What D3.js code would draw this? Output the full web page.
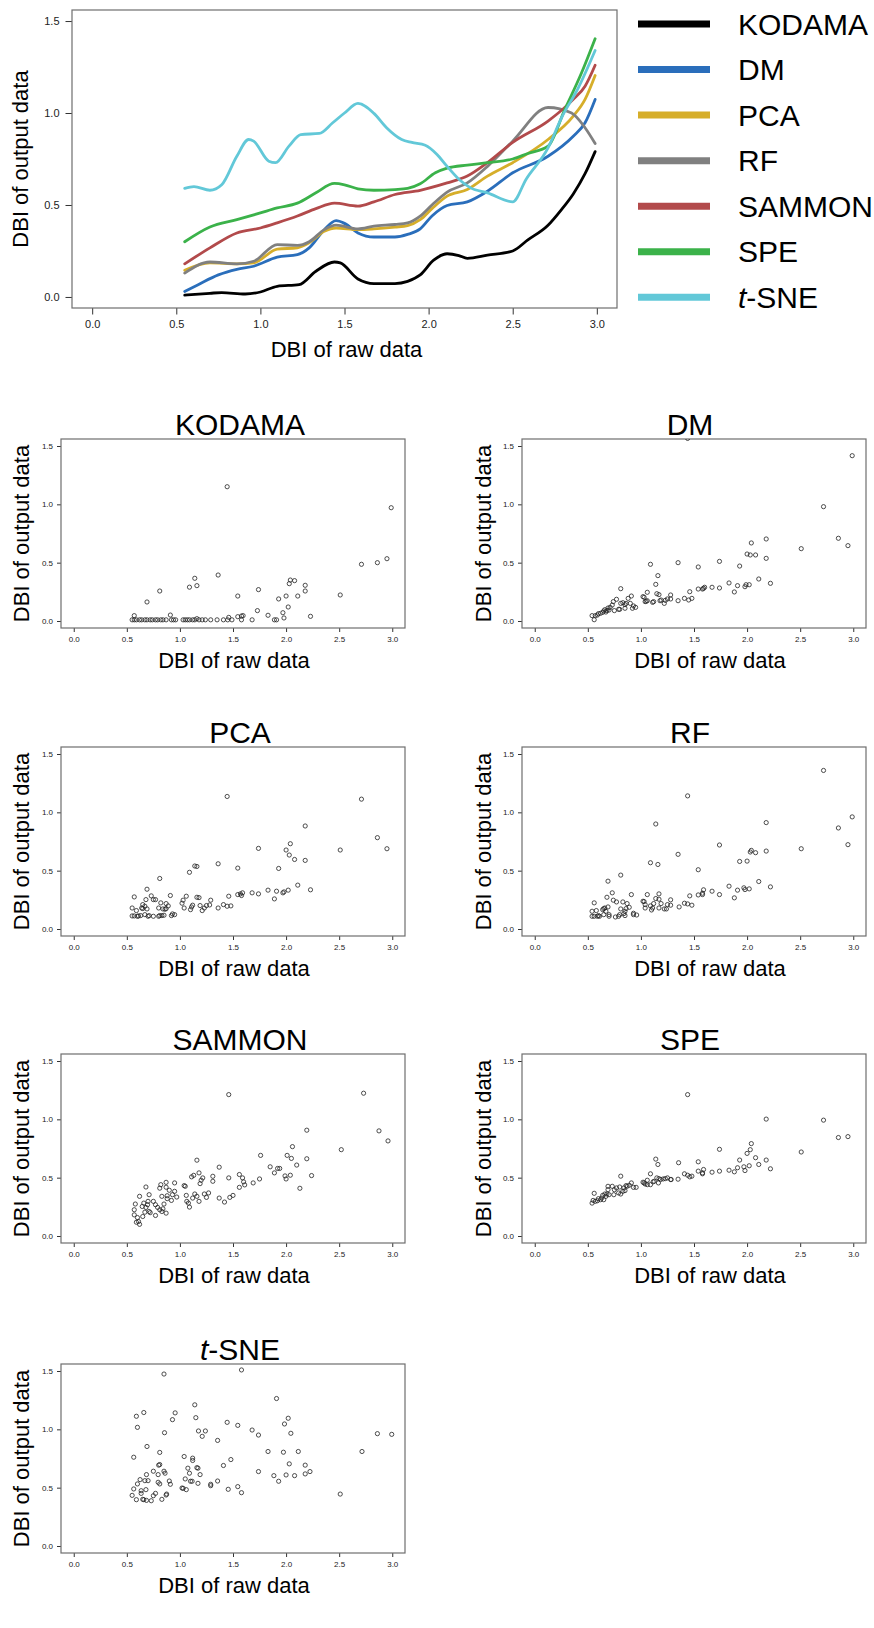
<!DOCTYPE html>
<meta charset="utf-8">
<style>
body{margin:0;background:#fff;}
text{font-family:"Liberation Sans",Arial,Helvetica,sans-serif;fill:#000;}
.tick text{fill:#222;}
.frame{fill:none;stroke:#6e6e6e;stroke-width:1.2px;}
.pt{fill:none;stroke:#222;stroke-width:0.8px;}
</style>
<body>
<script src="https://d3js.org/d3.v7.min.js"></script>
<script>

var methods=["KODAMA","DM","PCA","RF","SAMMON","SPE","t-SNE"];
var colors=["#000000","#2a6ebb","#d6ae2a","#808080","#b24a4b","#3bb24a","#62c8d8"];
var xTicks=[0,0.5,1,1.5,2,2.5,3];
var yTicks=[0,0.5,1,1.5];

// smoothed trend lines (top panel)
var kodamaCurve=[[0.55,0.01],[0.7,0.02],[0.77,0.024],[0.91,0.016],[1.0,0.027],[1.1,0.058],[1.23,0.067],[1.33,0.14],[1.44,0.19],[1.475,0.185],[1.58,0.098],[1.675,0.073],[1.8,0.073],[1.875,0.085],[1.95,0.12],[2.03,0.2],[2.11,0.235],[2.18,0.225],[2.23,0.21],[2.35,0.227],[2.5,0.25],[2.59,0.31],[2.71,0.39],[2.79,0.475],[2.86,0.56],[2.93,0.67],[2.99,0.79]];
var dmCurve=[[0.55,0.03],[0.63,0.067],[0.75,0.12],[0.86,0.15],[0.96,0.167],[1.1,0.216],[1.22,0.23],[1.29,0.267],[1.38,0.366],[1.45,0.415],[1.5,0.4],[1.58,0.348],[1.675,0.326],[1.8,0.326],[1.875,0.34],[1.95,0.37],[2.02,0.44],[2.11,0.497],[2.23,0.517],[2.35,0.575],[2.5,0.675],[2.71,0.765],[2.86,0.874],[2.93,0.947],[2.99,1.074]];
var pcaCurve=[[0.55,0.145],[0.7,0.185],[0.86,0.18],[0.96,0.185],[1.1,0.26],[1.22,0.267],[1.29,0.294],[1.38,0.357],[1.45,0.375],[1.58,0.366],[1.675,0.37],[1.8,0.38],[1.875,0.388],[1.95,0.42],[2.02,0.48],[2.11,0.548],[2.23,0.584],[2.35,0.657],[2.5,0.73],[2.71,0.856],[2.86,0.983],[2.93,1.074],[2.99,1.204]];
var rfCurve=[[0.55,0.13],[0.7,0.19],[0.86,0.18],[0.96,0.194],[1.1,0.285],[1.22,0.28],[1.29,0.3],[1.38,0.366],[1.45,0.39],[1.58,0.37],[1.675,0.385],[1.8,0.394],[1.875,0.403],[1.95,0.44],[2.02,0.5],[2.11,0.57],[2.23,0.62],[2.35,0.71],[2.5,0.847],[2.71,1.03],[2.85,1.0],[2.93,0.92],[2.99,0.834]];
var sammonCurve=[[0.55,0.18],[0.7,0.267],[0.86,0.348],[1.0,0.375],[1.1,0.403],[1.22,0.44],[1.33,0.48],[1.44,0.51],[1.58,0.494],[1.675,0.517],[1.8,0.557],[1.95,0.58],[2.11,0.62],[2.23,0.657],[2.35,0.73],[2.5,0.84],[2.71,0.956],[2.86,1.074],[2.93,1.146],[2.99,1.26]];
var speCurve=[[0.55,0.3],[0.7,0.38],[0.86,0.42],[1.0,0.457],[1.1,0.484],[1.22,0.51],[1.33,0.566],[1.44,0.617],[1.5,0.61],[1.58,0.588],[1.675,0.58],[1.8,0.584],[1.875,0.59],[1.95,0.615],[2.04,0.675],[2.11,0.7],[2.23,0.717],[2.35,0.73],[2.5,0.75],[2.59,0.78],[2.71,0.82],[2.81,1.02],[2.91,1.22],[2.99,1.404]];
var tsneCurve=[[0.55,0.59],[0.605,0.6],[0.7,0.58],[0.77,0.61],[0.86,0.765],[0.93,0.856],[0.96,0.847],[1.05,0.738],[1.09,0.73],[1.17,0.82],[1.24,0.883],[1.35,0.889],[1.43,0.947],[1.5,1.0],[1.58,1.052],[1.675,0.998],[1.75,0.92],[1.84,0.856],[1.9,0.84],[1.98,0.825],[2.05,0.775],[2.11,0.71],[2.18,0.64],[2.25,0.593],[2.35,0.566],[2.5,0.517],[2.58,0.64],[2.71,0.81],[2.79,0.974],[2.89,1.137],[2.99,1.34]];

// per-dataset points: [DBI of raw data, DBI of output data]
var kodamaPts=[[0.55,0.01],[0.57,0.01],[0.59,0.01],[0.62,0.01],[0.64,0.01],[0.67,0.01],[0.69,0.01],[0.72,0.01],[0.74,0.01],[0.77,0.01],[0.79,0.01],[0.82,0.01],[0.84,0.01],[0.87,0.01],[0.92,0.01],[0.94,0.01],[0.96,0.01],[1.03,0.01],[1.05,0.01],[1.07,0.01],[1.09,0.01],[1.12,0.01],[1.14,0.01],[1.18,0.01],[1.21,0.01],[1.24,0.01],[1.29,0.01],[1.35,0.01],[1.41,0.01],[1.45,0.01],[1.49,0.01],[1.58,0.01],[1.68,0.01],[1.89,0.01],[1.91,0.01],
[0.57,0.046],[0.69,0.163],[0.81,0.257],[0.91,0.051],[1.09,0.29],[1.14,0.366],[1.16,0.303],[1.16,0.02],[1.36,0.394],[1.445,1.151],[1.46,0.031],[1.545,0.214],[1.545,0.037],[1.58,0.043],[1.595,0.046],[1.73,0.089],[1.74,0.269],[1.83,0.049],[1.93,0.189],[1.97,0.071],[1.98,0.026],[2.0,0.214],[2.02,0.12],[2.03,0.32],[2.04,0.351],[2.08,0.346],[2.11,0.214],[2.18,0.257],[2.18,0.306],[2.23,0.04],[2.51,0.223],[2.71,0.486],[2.86,0.5],[2.95,0.534],[2.99,0.971]];
var dmPts=[[0.54,0.046],[0.56,0.011],[0.57,0.046],[0.59,0.051],[0.6,0.063],[0.62,0.066],[0.64,0.074],[0.65,0.086],[0.66,0.097],[0.67,0.077],[0.68,0.089],[0.69,0.111],[0.7,0.094],[0.71,0.117],[0.73,0.137],[0.74,0.166],[0.75,0.089],[0.77,0.186],[0.79,0.1],[0.8,0.1],[0.81,0.277],[0.81,0.151],[0.83,0.157],[0.85,0.109],[0.85,0.14],[0.86,0.151],[0.88,0.194],[0.9,0.151],[0.91,0.214],[0.92,0.109],[0.93,0.129],[0.95,0.117],[1.02,0.209],[1.03,0.203],[1.04,0.166],[1.05,0.169],[1.06,0.246],[1.06,0.174],[1.09,0.486],[1.11,0.16],[1.12,0.166],[1.14,0.314],[1.15,0.234],[1.16,0.389],[1.17,0.226],[1.18,0.174],[1.19,0.18],[1.22,0.151],[1.23,0.177],[1.25,0.189],[1.28,0.223],[1.28,0.189],[1.35,0.5],[1.35,0.174],[1.41,0.194],[1.44,1.565],[1.45,0.18],[1.46,0.251],[1.48,0.194],[1.54,0.463],[1.54,0.274],[1.58,0.274],[1.59,0.28],[1.6,0.289],[1.67,0.289],[1.74,0.511],[1.74,0.283],[1.83,0.326],[1.88,0.249],[1.93,0.471],[1.91,0.303],[1.98,0.294],[1.99,0.311],[2.0,0.574],[2.02,0.311],[2.03,0.566],[2.04,0.669],[2.08,0.566],[2.11,0.36],[2.18,0.703],[2.18,0.537],[2.22,0.323],[2.51,0.62],[2.72,0.98],[2.86,0.709],[2.95,0.646],[2.99,1.417]];
var pcaPts=[[0.55,0.18],[0.55,0.112],[0.57,0.275],[0.57,0.112],[0.59,0.158],[0.6,0.109],[0.61,0.112],[0.63,0.115],[0.64,0.18],[0.65,0.209],[0.65,0.175],[0.67,0.195],[0.67,0.123],[0.68,0.252],[0.69,0.341],[0.69,0.172],[0.7,0.109],[0.71,0.115],[0.73,0.284],[0.75,0.109],[0.75,0.252],[0.77,0.252],[0.8,0.109],[0.8,0.18],[0.81,0.115],[0.81,0.433],[0.82,0.224],[0.83,0.115],[0.84,0.172],[0.85,0.118],[0.86,0.169],[0.87,0.218],[0.87,0.175],[0.89,0.198],[0.91,0.287],[0.92,0.115],[0.93,0.129],[0.95,0.123],[1.02,0.221],[1.03,0.247],[1.04,0.18],[1.06,0.281],[1.09,0.486],[1.1,0.166],[1.11,0.189],[1.12,0.204],[1.14,0.54],[1.16,0.272],[1.16,0.536],[1.18,0.269],[1.19,0.201],[1.21,0.158],[1.23,0.18],[1.25,0.201],[1.28,0.206],[1.29,0.247],[1.36,0.18],[1.36,0.559],[1.41,0.209],[1.445,1.136],[1.445,0.195],[1.46,0.281],[1.48,0.198],[1.545,0.522],[1.545,0.295],[1.57,0.301],[1.58,0.287],[1.59,0.31],[1.68,0.31],[1.74,0.301],[1.74,0.691],[1.83,0.333],[1.89,0.258],[1.91,0.324],[1.93,0.519],[1.97,0.31],[1.98,0.318],[2.0,0.677],[2.02,0.333],[2.03,0.634],[2.04,0.731],[2.08,0.596],[2.11,0.376],[2.18,0.883],[2.18,0.588],[2.23,0.336],[2.51,0.677],[2.71,1.113],[2.86,0.783],[2.95,0.688]];
var rfPts=[[0.54,0.109],[0.54,0.152],[0.56,0.224],[0.56,0.109],[0.58,0.158],[0.59,0.109],[0.6,0.115],[0.61,0.109],[0.64,0.166],[0.65,0.123],[0.65,0.175],[0.66,0.18],[0.67,0.152],[0.68,0.272],[0.69,0.41],[0.69,0.189],[0.7,0.109],[0.7,0.123],[0.73,0.31],[0.74,0.247],[0.76,0.103],[0.77,0.232],[0.79,0.109],[0.8,0.123],[0.81,0.462],[0.81,0.172],[0.83,0.232],[0.84,0.132],[0.85,0.115],[0.85,0.152],[0.86,0.175],[0.87,0.218],[0.89,0.186],[0.91,0.295],[0.93,0.135],[0.93,0.123],[0.96,0.12],[1.02,0.238],[1.03,0.235],[1.04,0.209],[1.04,0.18],[1.06,0.295],[1.09,0.568],[1.09,0.198],[1.1,0.163],[1.11,0.18],[1.12,0.218],[1.14,0.9],[1.14,0.261],[1.16,0.553],[1.17,0.18],[1.17,0.301],[1.17,0.255],[1.19,0.218],[1.22,0.172],[1.24,0.172],[1.25,0.209],[1.28,0.25],[1.28,0.204],[1.35,0.64],[1.36,0.189],[1.41,0.221],[1.44,1.141],[1.44,0.215],[1.46,0.284],[1.48,0.204],[1.54,0.508],[1.54,0.292],[1.58,0.295],[1.58,0.307],[1.59,0.336],[1.67,0.324],[1.74,0.295],[1.74,0.72],[1.83,0.367],[1.88,0.267],[1.91,0.333],[1.93,0.579],[1.97,0.353],[1.98,0.338],[2.0,0.582],[2.02,0.344],[2.03,0.66],[2.04,0.674],[2.08,0.654],[2.11,0.407],[2.18,0.912],[2.18,0.668],[2.22,0.361],[2.51,0.688],[2.72,1.359],[2.86,0.866],[2.95,0.723],[2.99,0.961]];
var sammonPts=[[0.57,0.225],[0.57,0.181],[0.58,0.274],[0.59,0.118],[0.6,0.158],[0.61,0.124],[0.62,0.34],[0.62,0.1],[0.645,0.253],[0.65,0.167],[0.66,0.282],[0.67,0.204],[0.68,0.42],[0.68,0.245],[0.695,0.268],[0.7,0.297],[0.71,0.354],[0.71,0.21],[0.72,0.2],[0.75,0.297],[0.77,0.268],[0.77,0.176],[0.79,0.245],[0.81,0.225],[0.81,0.41],[0.82,0.44],[0.83,0.21],[0.83,0.34],[0.84,0.233],[0.85,0.274],[0.87,0.46],[0.87,0.196],[0.87,0.418],[0.88,0.345],[0.88,0.32],[0.9,0.392],[0.92,0.305],[0.93,0.354],[0.95,0.455],[0.95,0.383],[0.97,0.334],[1.04,0.432],[1.05,0.426],[1.06,0.348],[1.065,0.297],[1.08,0.282],[1.09,0.248],[1.11,0.507],[1.12,0.325],[1.13,0.52],[1.14,0.36],[1.16,0.65],[1.16,0.34],[1.18,0.541],[1.18,0.297],[1.19,0.449],[1.2,0.478],[1.215,0.498],[1.23,0.36],[1.25,0.331],[1.27,0.369],[1.31,0.512],[1.31,0.469],[1.37,0.325],[1.37,0.59],[1.42,0.291],[1.46,1.212],[1.46,0.498],[1.47,0.331],[1.5,0.348],[1.56,0.417],[1.56,0.527],[1.59,0.498],[1.6,0.464],[1.61,0.438],[1.69,0.455],[1.75,0.489],[1.76,0.691],[1.85,0.593],[1.89,0.541],[1.92,0.579],[1.94,0.579],[1.99,0.515],[2.0,0.489],[2.01,0.691],[2.04,0.521],[2.05,0.665],[2.06,0.766],[2.1,0.608],[2.13,0.409],[2.195,0.907],[2.195,0.662],[2.24,0.518],[2.52,0.74],[2.73,1.224],[2.875,0.901],[2.96,0.815]];
var spePts=[[0.54,0.282],[0.55,0.305],[0.56,0.366],[0.57,0.297],[0.59,0.302],[0.6,0.32],[0.62,0.311],[0.63,0.325],[0.64,0.348],[0.65,0.311],[0.66,0.36],[0.67,0.34],[0.68,0.36],[0.69,0.426],[0.69,0.397],[0.7,0.354],[0.73,0.426],[0.745,0.354],[0.75,0.397],[0.77,0.412],[0.79,0.369],[0.8,0.42],[0.81,0.513],[0.81,0.36],[0.83,0.383],[0.84,0.412],[0.85,0.389],[0.86,0.432],[0.87,0.426],[0.89,0.435],[0.91,0.455],[0.93,0.417],[0.955,0.417],[1.02,0.461],[1.03,0.455],[1.04,0.446],[1.06,0.478],[1.06,0.44],[1.09,0.533],[1.09,0.44],[1.115,0.464],[1.125,0.469],[1.14,0.659],[1.15,0.498],[1.16,0.613],[1.165,0.455],[1.17,0.492],[1.185,0.484],[1.21,0.489],[1.23,0.492],[1.25,0.498],[1.28,0.484],[1.285,0.484],[1.35,0.487],[1.355,0.628],[1.41,0.533],[1.44,1.212],[1.44,0.521],[1.46,0.507],[1.48,0.513],[1.54,0.636],[1.54,0.556],[1.58,0.533],[1.58,0.541],[1.59,0.57],[1.67,0.547],[1.74,0.556],[1.74,0.743],[1.83,0.564],[1.88,0.55],[1.91,0.585],[1.93,0.651],[1.97,0.593],[1.98,0.561],[2.0,0.708],[2.02,0.602],[2.03,0.74],[2.04,0.792],[2.08,0.671],[2.11,0.613],[2.18,1.002],[2.18,0.651],[2.22,0.576],[2.51,0.72],[2.72,0.993],[2.86,0.844],[2.95,0.852]];
var tsnePts=[[0.55,0.434],[0.565,0.761],[0.565,0.489],[0.59,0.397],[0.59,1.112],[0.6,1.017],[0.6,0.532],[0.625,0.569],[0.635,0.451],[0.635,0.474],[0.65,0.4],[0.66,1.144],[0.66,0.397],[0.67,0.56],[0.68,0.483],[0.685,0.612],[0.685,0.391],[0.69,0.853],[0.7,0.56],[0.73,0.388],[0.75,0.641],[0.75,0.431],[0.77,0.451],[0.795,0.612],[0.795,0.546],[0.8,0.693],[0.81,0.802],[0.81,0.698],[0.81,0.532],[0.83,0.4],[0.85,1.474],[0.85,0.641],[0.855,0.971],[0.86,0.624],[0.87,0.437],[0.875,0.445],[0.9,0.557],[0.91,0.529],[0.93,1.083],[0.955,1.141],[1.02,0.497],[1.03,0.494],[1.04,0.767],[1.05,0.575],[1.06,0.483],[1.075,0.667],[1.09,0.624],[1.1,0.555],[1.115,0.555],[1.12,0.753],[1.12,0.733],[1.14,1.21],[1.15,1.1],[1.16,0.672],[1.17,0.667],[1.17,0.537],[1.175,0.986],[1.19,0.612],[1.21,0.94],[1.24,0.986],[1.29,0.529],[1.29,0.517],[1.355,0.905],[1.355,0.557],[1.41,0.69],[1.445,1.06],[1.455,0.486],[1.48,0.741],[1.545,0.509],[1.545,1.034],[1.58,1.509],[1.58,0.457],[1.68,0.994],[1.74,0.951],[1.74,0.638],[1.83,0.81],[1.885,0.603],[1.91,1.264],[1.93,0.555],[1.975,0.804],[1.985,1.046],[2.0,0.609],[2.02,1.095],[2.03,0.704],[2.045,0.966],[2.08,0.603],[2.115,0.81],[2.18,0.693],[2.18,0.618],[2.225,0.638],[2.51,0.445],[2.715,0.81],[2.86,0.963],[2.995,0.957]];

var curves=[kodamaCurve,dmCurve,pcaCurve,rfCurve,sammonCurve,speCurve,tsneCurve];
var points=[kodamaPts,dmPts,pcaPts,rfPts,sammonPts,spePts,tsnePts];

var svg=d3.select("body").append("svg").attr("width",874).attr("height",1628);
svg.append("rect").attr("width",874).attr("height",1628).attr("fill","#fff");

function label(sel,name){
	if(name=="t-SNE"){
		sel.append("tspan").style("font-style","italic").text("t");
		sel.append("tspan").text("-SNE");
	} else sel.text(name);
}

// draws box, ticks and tick labels the R way
function frame(g,x,y,w,h,tl,fs,gap){
	g.append("g").attr("transform","translate(0,"+h+")")
		.call(d3.axisBottom(x).tickValues(xTicks).tickFormat(d3.format(".1f")).tickSizeInner(tl).tickSizeOuter(0).tickPadding(gap))
		.call(a=>a.select(".domain").remove());
	g.append("g")
		.call(d3.axisLeft(y).tickValues(yTicks).tickFormat(d3.format(".1f")).tickSizeInner(tl).tickSizeOuter(0).tickPadding(gap))
		.call(a=>a.select(".domain").remove());
	g.selectAll(".tick text").style("font-size",fs+"px").attr("fill","#222");
	g.selectAll(".tick line").attr("stroke","#333");
	g.append("rect").attr("class","frame").attr("width",w).attr("height",h);
}

// ---- top panel: trend lines
var W=545,H=298;
var mainG=svg.append("g").attr("transform","translate(72,10)");
var x=d3.scaleLinear().domain([-0.12,3.12]).range([0,W]);
var y=d3.scaleLinear().domain([-0.06,1.56]).range([H,0]);
frame(mainG,x,y,W,H,6.5,11,6);

var line=d3.line().x(d=>x(d[0])).y(d=>y(d[1])).curve(d3.curveMonotoneX);
mainG.selectAll(".curve").data(curves).enter().append("path")
	.attr("d",line).attr("fill","none")
	.attr("stroke",(d,i)=>colors[i]).attr("stroke-width",2.8)
	.attr("stroke-linejoin","round").attr("stroke-linecap","round");

mainG.append("text").attr("x",W/2+2).attr("y",H+49).attr("text-anchor","middle")
	.style("font-size","22px").text("DBI of raw data");
mainG.append("text").attr("transform","translate(-44,"+(H/2)+") rotate(-90)")
	.attr("text-anchor","middle").style("font-size","22px").text("DBI of output data");

// legend
var leg=svg.append("g").attr("transform","translate(638,24)");
methods.forEach(function(m,i){
	var r=leg.append("g").attr("transform","translate(0,"+(i*45.55)+")");
	r.append("line").attr("x1",0).attr("x2",72).attr("stroke",colors[i]).attr("stroke-width",7);
	r.append("text").attr("x",100).attr("y",10.5).style("font-size","30px").call(label,m);
});

// ---- small multiples
var pw=344,ph=189;
var colX=[61,522],rowY=[439,747,1054,1364];
var px=d3.scaleLinear().domain([-0.12,3.12]).range([0,pw]);
var py=d3.scaleLinear().domain([-0.06,1.56]).range([ph,0]);

methods.forEach(function(m,i){
	var cx=colX[i%2],cy=rowY[Math.floor(i/2)];
	var g=svg.append("g").attr("transform","translate("+cx+","+cy+")");
	frame(g,px,py,pw,ph,4,8,4);

	g.append("clipPath").attr("id","clip"+i).append("rect").attr("width",pw).attr("height",ph);
	g.append("g").attr("clip-path","url(#clip"+i+")")
		.selectAll("circle").data(points[i]).enter().append("circle").attr("class","pt")
		.attr("cx",d=>px(d[0])).attr("cy",d=>py(d[1])).attr("r",2.1);

	var off=i%2==0?179:168;
	g.append("text").attr("x",off).attr("y",-4).attr("text-anchor","middle")
		.style("font-size","30px").call(label,m);
	g.append("text").attr("x",i%2==0?173:188).attr("y",ph+40).attr("text-anchor","middle")
		.style("font-size","22px").text("DBI of raw data");
	g.append("text").attr("transform","translate("+(i%2==0?-32:-31)+","+(ph/2)+") rotate(-90)")
		.attr("text-anchor","middle").style("font-size","22px").text("DBI of output data");
});
</script>
</body>
</html>
